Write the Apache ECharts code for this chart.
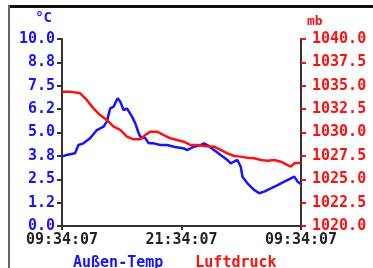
<!DOCTYPE html>
<html>
<head>
<meta charset="utf-8">
<script src="https://cdn.jsdelivr.net/npm/echarts@6/dist/echarts.min.js"></script>
<style>
  html, body { margin: 0; padding: 0; background: #fff; }
  #chart { width: 373px; height: 268px; }
</style>
</head>
<body>
<div id="chart"></div>
<script>
// hours since 09:34:07
const timeLabels = { 0: '09:34:07', 12: '21:34:07', 24: '09:34:07' }
const tempTickLabels = ['0.0', '1.2', '2.5', '3.8', '5.0', '6.2', '7.5', '8.8', '10.0']

const tempHours = [0, 0.47, 1.31, 1.65, 2.15, 2.82, 3.5, 4.17, 4.5, 4.84, 5.18, 5.58, 5.85, 6.18, 6.52, 7.03, 7.36, 7.7, 7.87, 8.37, 8.71, 9.21, 9.88, 10.55, 11.23, 12.24, 12.57, 13.24, 13.92, 14.25, 14.59, 15.26, 15.93, 16.61, 16.94, 17.61, 17.95, 18.12, 18.62, 19.29, 19.8, 20.3, 20.97, 21.65, 22.32, 22.99, 23.33, 23.66, 24]
const tempValues = [3.71, 3.8, 3.89, 4.33, 4.42, 4.69, 5.13, 5.31, 5.58, 6.29, 6.38, 6.83, 6.65, 6.2, 6.29, 5.85, 5.49, 4.96, 4.78, 4.69, 4.42, 4.42, 4.33, 4.33, 4.24, 4.15, 4.06, 4.24, 4.33, 4.42, 4.33, 4.06, 3.8, 3.53, 3.35, 3.53, 3.17, 2.64, 2.28, 1.93, 1.75, 1.84, 2.01, 2.19, 2.37, 2.55, 2.64, 2.37, 2.25]

const pressHours = [0, 0.81, 1.82, 2.49, 3.16, 3.83, 4.5, 5.18, 5.85, 6.52, 7.19, 7.87, 8.37, 8.87, 9.55, 10.22, 10.89, 11.56, 12.24, 12.91, 13.58, 14.25, 15.26, 15.93, 16.61, 17.28, 17.95, 18.62, 19.29, 19.97, 20.64, 21.31, 21.98, 22.66, 22.99, 23.33, 24]
const pressValues = [1034.37, 1034.37, 1034.19, 1033.48, 1032.58, 1031.87, 1031.34, 1030.62, 1030.27, 1029.55, 1029.27, 1029.27, 1029.73, 1030.09, 1030.09, 1029.73, 1029.38, 1029.2, 1029.02, 1028.66, 1028.66, 1028.56, 1028.48, 1028.13, 1027.77, 1027.49, 1027.42, 1027.31, 1027.24, 1027.06, 1026.99, 1027.06, 1026.88, 1026.52, 1026.35, 1026.7, 1026.77]

const font = 'DejaVu Sans Mono'
const blue = '#1414ff'
const red = '#ff1010'

const chart = echarts.init(document.getElementById('chart'))

const option = {
  animation: false,
  backgroundColor: '#fff',
  grid: { left: 62, right: 72, top: 39, bottom: 42 },
  legend: {
    left: 63,
    top: 251,
    icon: 'rect',
    itemWidth: 0,
    itemHeight: 0,
    itemGap: 27,
    textStyle: { fontFamily: font, fontWeight: 'bold', fontSize: 15, padding: 0 },
    data: [
      { name: 'Außen-Temp', textStyle: { color: blue } },
      { name: 'Luftdruck', textStyle: { color: red } }
    ]
  },
  xAxis: {
    type: 'value',
    min: 0,
    max: 24,
    interval: 12,
    splitLine: { show: false },
    axisLine: { lineStyle: { color: '#333', width: 2 } },
    axisTick: { length: 4, lineStyle: { color: '#333', width: 2 } },
    axisLabel: {
      margin: 7,
      color: '#222',
      fontFamily: font,
      fontWeight: 'bold',
      fontSize: 15,
      formatter: v => timeLabels[v] || ''
    }
  },
  yAxis: [
    {
      type: 'value',
      min: 0,
      max: 10,
      interval: 1.25,
      name: '°C',
      nameGap: 14,
      nameTextStyle: { color: blue, fontFamily: font, fontWeight: 'bold', fontSize: 14, align: 'right', padding: [0, 10, 0, 0] },
      splitLine: { show: false },
      axisLine: { show: true, lineStyle: { color: '#333', width: 2 } },
      axisTick: { show: true, length: 5, lineStyle: { color: '#333', width: 2 } },
      axisLabel: {
        margin: 7,
        color: blue,
        fontFamily: font,
        fontWeight: 'bold',
        fontSize: 15,
        formatter: v => tempTickLabels[Math.round(v / 1.25)]
      }
    },
    {
      type: 'value',
      min: 1020,
      max: 1040,
      interval: 2.5,
      name: 'mb',
      nameGap: 11,
      nameTextStyle: { color: red, fontFamily: font, fontWeight: 'bold', fontSize: 13, align: 'left', padding: [0, 0, 0, 6] },
      splitLine: { show: false },
      axisLine: { show: true, lineStyle: { color: '#333', width: 2 } },
      axisTick: { show: true, length: 5, lineStyle: { color: red, width: 2 } },
      axisLabel: {
        margin: 11,
        color: red,
        fontFamily: font,
        fontWeight: 'bold',
        fontSize: 15,
        formatter: v => v.toFixed(1)
      }
    }
  ],
  graphic: [
    { type: 'rect', shape: { x: 8, y: 5, width: 365, height: 3 }, style: { fill: '#111' } },
    { type: 'rect', shape: { x: 8, y: 5, width: 2, height: 263 }, style: { fill: '#666' } }
  ],
  series: [
    {
      name: 'Außen-Temp',
      type: 'line',
      yAxisIndex: 0,
      showSymbol: false,
      lineStyle: { color: blue, width: 2.5 },
      itemStyle: { color: blue },
      data: tempHours.map((h, i) => [h, tempValues[i]])
    },
    {
      name: 'Luftdruck',
      type: 'line',
      yAxisIndex: 1,
      showSymbol: false,
      lineStyle: { color: red, width: 2.5 },
      itemStyle: { color: red },
      data: pressHours.map((h, i) => [h, pressValues[i]])
    }
  ]
}

chart.setOption(option)
</script>
</body>
</html>
